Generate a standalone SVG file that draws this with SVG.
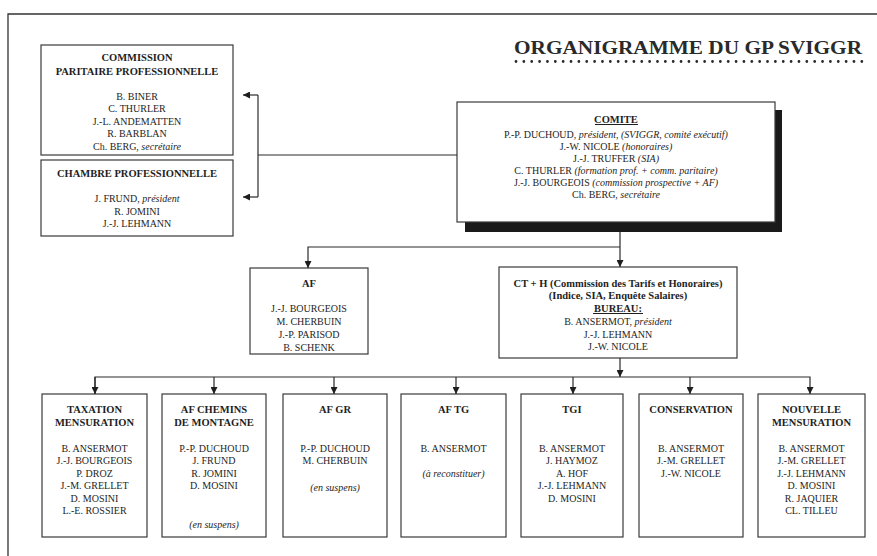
<svg xmlns="http://www.w3.org/2000/svg" width="877" height="556" viewBox="0 0 877 556">
<defs>
<style>
text{font-family:"Liberation Serif","Times New Roman",serif;font-size:10px;fill:#1e1e1e;text-anchor:middle}
.b{font-weight:bold;font-size:10.5px}
.i{font-style:italic;font-weight:normal}
.box{fill:#fff;stroke:#3a3a3a;stroke-width:1.2}
.ln{fill:none;stroke:#2a2a2a;stroke-width:1.2}
.ul{stroke:#1e1e1e;stroke-width:1}
</style>
<marker id="ah" viewBox="0 0 10 10" refX="10" refY="5" markerWidth="7" markerHeight="7" orient="auto" markerUnits="userSpaceOnUse">
<path d="M0,0 L10,5 L0,10 Z" fill="#1e1e1e"/>
</marker>
</defs>
<rect width="877" height="556" fill="#fff"/>
<path d="M8,556 L8,14 L877,14" fill="none" stroke="#333" stroke-width="1.3"/>

<g id="title">
<text x="688" y="54" class="b" style="font-size:18px;fill:#2a2a2a" textLength="348" lengthAdjust="spacingAndGlyphs">ORGANIGRAMME DU GP SVIGGR</text>
<line x1="516" y1="61.5" x2="862" y2="61.5" stroke="#2a2a2a" stroke-width="2.8" stroke-linecap="round" stroke-dasharray="0 7.86"/>
</g>

<g id="commission">
<rect class="box" x="41" y="45" width="192" height="110"/>
<text x="137" y="61" class="b">COMMISSION</text>
<text x="137" y="74.5" class="b">PARITAIRE PROFESSIONNELLE</text>
<text x="137" y="99.5">B. BINER</text>
<text x="137" y="112">C. THURLER</text>
<text x="137" y="124.5">J.-L. ANDEMATTEN</text>
<text x="137" y="137">R. BARBLAN</text>
<text x="137" y="149.5">Ch. BERG, <tspan class="i">secrétaire</tspan></text>
</g>

<g id="chambre">
<rect class="box" x="41" y="160" width="192" height="76"/>
<text x="137" y="176.5" class="b">CHAMBRE PROFESSIONNELLE</text>
<text x="137" y="202">J. FRUND, <tspan class="i">président</tspan></text>
<text x="137" y="214.5">R. JOMINI</text>
<text x="137" y="227">J.-J. LEHMANN</text>
</g>

<g id="comite">
<rect x="465" y="110" width="317" height="122" fill="#1a1a1a"/>
<rect class="box" x="457" y="102" width="318" height="120"/>
<text x="616" y="122.5" class="b">COMITE</text>
<line class="ul" x1="595" y1="124.5" x2="638" y2="124.5"/>
<text x="616" y="137.5">P.-P. DUCHOUD, <tspan class="i">président, (SVIGGR, comité exécutif)</tspan></text>
<text x="616" y="149.5">J.-W. NICOLE <tspan class="i">(honoraires)</tspan></text>
<text x="616" y="161.5">J.-J. TRUFFER <tspan class="i">(SIA)</tspan></text>
<text x="616" y="173.5">C. THURLER <tspan class="i">(formation prof. + comm. paritaire)</tspan></text>
<text x="616" y="185.5">J.-J. BOURGEOIS <tspan class="i">(commission prospective + AF)</tspan></text>
<text x="616" y="197.5">Ch. BERG, <tspan class="i">secrétaire</tspan></text>
</g>

<g id="af">
<rect class="box" x="250" y="268" width="118" height="86"/>
<text x="309" y="286.5" class="b">AF</text>
<text x="309" y="311.5">J.-J. BOURGEOIS</text>
<text x="309" y="324.5">M. CHERBUIN</text>
<text x="309" y="337.5">J.-P. PARISOD</text>
<text x="309" y="350.5">B. SCHENK</text>
</g>

<g id="cth">
<rect class="box" x="499" y="267" width="238" height="91"/>
<text x="618" y="286.5" class="b">CT + H (Commission des Tarifs et Honoraires)</text>
<text x="618" y="299" class="b">(Indice, SIA, Enquête Salaires)</text>
<text x="618" y="311.5" class="b">BUREAU:</text>
<line class="ul" x1="593" y1="313.5" x2="643" y2="313.5"/>
<text x="618" y="325">B. ANSERMOT, <tspan class="i">président</tspan></text>
<text x="618" y="337.5">J.-J. LEHMANN</text>
<text x="618" y="350">J.-W. NICOLE</text>
</g>

<g id="taxation">
<rect class="box" x="42" y="394" width="105" height="143"/>
<text x="94.5" y="412.5" class="b">TAXATION</text>
<text x="94.5" y="425.5" class="b">MENSURATION</text>
<text x="94.5" y="451.5">B. ANSERMOT</text>
<text x="94.5" y="464">J.-J. BOURGEOIS</text>
<text x="94.5" y="476.5">P. DROZ</text>
<text x="94.5" y="489">J.-M. GRELLET</text>
<text x="94.5" y="501.5">D. MOSINI</text>
<text x="94.5" y="514">L.-E. ROSSIER</text>
</g>

<g id="afchemins">
<rect class="box" x="162" y="394" width="104" height="143"/>
<text x="214" y="412.5" class="b">AF CHEMINS</text>
<text x="214" y="425.5" class="b">DE MONTAGNE</text>
<text x="214" y="451.5">P.-P. DUCHOUD</text>
<text x="214" y="464">J. FRUND</text>
<text x="214" y="476.5">R. JOMINI</text>
<text x="214" y="489">D. MOSINI</text>
<text x="214" y="527.5" class="i">(en suspens)</text>
</g>

<g id="afgr">
<rect class="box" x="283" y="394" width="104" height="143"/>
<text x="335" y="412.5" class="b">AF GR</text>
<text x="335" y="451.5">P.-P. DUCHOUD</text>
<text x="335" y="464">M. CHERBUIN</text>
<text x="335" y="491" class="i">(en suspens)</text>
</g>

<g id="aftg">
<rect class="box" x="401" y="394" width="105" height="143"/>
<text x="453.5" y="412.5" class="b">AF TG</text>
<text x="453.5" y="451.5">B. ANSERMOT</text>
<text x="453.5" y="476.5" class="i">(à reconstituer)</text>
</g>

<g id="tgi">
<rect class="box" x="521" y="394" width="102" height="143"/>
<text x="572" y="412.5" class="b">TGI</text>
<text x="572" y="451.5">B. ANSERMOT</text>
<text x="572" y="464">J. HAYMOZ</text>
<text x="572" y="476.5">A. HOF</text>
<text x="572" y="489">J.-J. LEHMANN</text>
<text x="572" y="501.5">D. MOSINI</text>
</g>

<g id="conservation">
<rect class="box" x="639" y="394" width="104" height="143"/>
<text x="691" y="412.5" class="b">CONSERVATION</text>
<text x="691" y="451.5">B. ANSERMOT</text>
<text x="691" y="464">J.-M. GRELLET</text>
<text x="691" y="476.5">J.-W. NICOLE</text>
</g>

<g id="nouvelle">
<rect class="box" x="758" y="394" width="107" height="143"/>
<text x="811.5" y="412.5" class="b">NOUVELLE</text>
<text x="811.5" y="425.5" class="b">MENSURATION</text>
<text x="811.5" y="451.5">B. ANSERMOT</text>
<text x="811.5" y="464">J.-M. GRELLET</text>
<text x="811.5" y="476.5">J.-J. LEHMANN</text>
<text x="811.5" y="489">D. MOSINI</text>
<text x="811.5" y="501.5">R. JAQUIER</text>
<text x="811.5" y="514">CL. TILLEU</text>
</g>

<g id="connectors">
<path class="ln" d="M457,155 L258,155"/>
<path class="ln" d="M258,95 L258,197"/>
<path class="ln" d="M258,95 L243,95" marker-end="url(#ah)"/>
<path class="ln" d="M258,197 L243,197" marker-end="url(#ah)"/>
<path class="ln" d="M620,232 L620,267" marker-end="url(#ah)"/>
<path class="ln" d="M620,247 L308,247 L308,268" marker-end="url(#ah)"/>
<path class="ln" d="M620,358 L620,377" marker-end="url(#ah)"/>
<path class="ln" d="M95,394 L95,377 L810,377 L810,394" marker-end="url(#ah)"/>
<path class="ln" d="M95,377 L95,394" marker-end="url(#ah)"/>
<path class="ln" d="M214,377 L214,394" marker-end="url(#ah)"/>
<path class="ln" d="M334,377 L334,394" marker-end="url(#ah)"/>
<path class="ln" d="M456,377 L456,394" marker-end="url(#ah)"/>
<path class="ln" d="M573,377 L573,394" marker-end="url(#ah)"/>
<path class="ln" d="M690,377 L690,394" marker-end="url(#ah)"/>
</g>
</svg>
